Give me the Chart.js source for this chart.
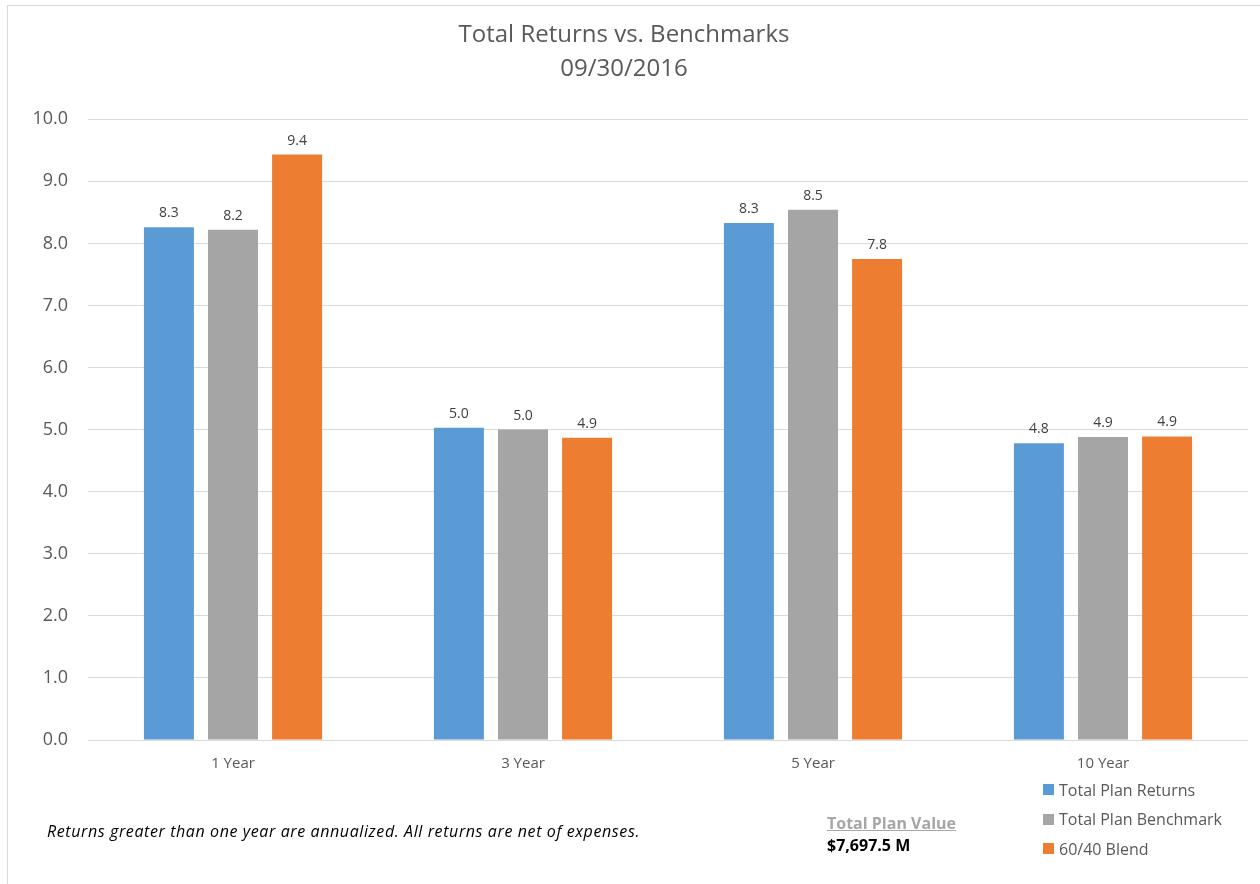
<!DOCTYPE html>
<html>
<head>
<meta charset="utf-8">
<script src="https://cdn.jsdelivr.net/npm/chart.js@4/dist/chart.umd.min.js"></script>
<style>
    body { margin: 0; background: #fff; font-family: "Open Sans", "Liberation Sans", sans-serif; }
    #wrap { position: relative; width: 1260px; height: 884px; overflow: hidden; }
    #frame { position: absolute; left: 7px; top: 5px; width: 1280px; height: 900px; border: 1px solid #d9d9d9; }
    canvas { position: absolute; left: 0; top: 0; }
    .note { position: absolute; left: 47px; top: 820px; font-size: 16px; letter-spacing: 0.6px; font-style: italic; color: #000; }
    .plan { position: absolute; left: 827px; top: 812px; font-size: 16px; font-weight: bold; line-height: 22px; }
    .plan .lbl { color: #a6a6a6; text-decoration: underline; }
    .plan .val { color: #000; }
    #legend { position: absolute; left: 1043px; top: 775px; font-size: 16px; color: #595959; }
    #legend div { height: 29.5px; display: flex; align-items: center; }
    #legend span.box { width: 11px; height: 11px; margin-right: 5px; display: inline-block; }
</style>
</head>
<body>
<div id="wrap">
    <div id="frame"></div>
    <canvas id="returns-chart" width="1260" height="884"></canvas>
    <div class="note">Returns greater than one year are annualized. All returns are net of expenses.</div>
    <div class="plan"><div class="lbl">Total Plan Value</div><div class="val">$7,697.5 M</div></div>
    <div id="legend"></div>
</div>
<script>
const periods = ['1 Year', '3 Year', '5 Year', '10 Year'];
const planReturns = [8.26, 5.03, 8.33, 4.78];
const planBenchmark = [8.22, 5.0, 8.54, 4.88];
const blend6040 = [9.43, 4.87, 7.75, 4.89];
const seriesNames = ['Total Plan Returns', 'Total Plan Benchmark', '60/40 Blend'];
const seriesColors = ['#5b9bd5', '#a5a5a5', '#ed7d31'];

Chart.defaults.font.family = '"Open Sans", "Liberation Sans", sans-serif';

// value labels above each bar
const barLabels = {
    id: 'barLabels',
    afterDatasetsDraw(chart) {
        const ctx = chart.ctx;
        ctx.save();
        ctx.font = '14px "Open Sans", "Liberation Sans", sans-serif';
        ctx.fillStyle = '#404040';
        ctx.textAlign = 'center';
        ctx.textBaseline = 'bottom';
        chart.data.datasets.forEach((ds, i) => {
            chart.getDatasetMeta(i).data.forEach((bar, j) => {
                ctx.fillText(ds.data[j].toFixed(1), bar.x, bar.y - 7);
            });
        });
        ctx.restore();
    }
};

const allSeries = [planReturns, planBenchmark, blend6040];

const chart = new Chart(document.getElementById('returns-chart'), {
    type: 'bar',
    data: {
        labels: periods,
        datasets: allSeries.map((vals, i) => ({
            label: seriesNames[i],
            data: vals,
            backgroundColor: seriesColors[i],
            categoryPercentage: 0.663,
            barPercentage: 0.78
        }))
    },
    options: {
        responsive: false,
        animation: false,
        layout: {
            padding: { left: 0, right: 12, top: 0, bottom: 104 }
        },
        plugins: {
            legend: { display: false },
            tooltip: { enabled: false },
            title: {
                display: true,
                text: ['Total Returns vs. Benchmarks', '09/30/2016'],
                color: '#595959',
                font: { size: 24, weight: 'normal', lineHeight: 1.38 },
                padding: { top: 19, bottom: 34 }
            }
        },
        scales: {
            x: {
                grid: { display: false },
                border: { display: false },
                ticks: {
                    color: '#595959',
                    font: { size: 15 },
                    padding: 7
                },
                afterFit(s) { s.height = 40; }
            },
            y: {
                min: 0,
                max: 10,
                grid: { color: '#d9d9d9', drawTicks: false },
                border: { display: false },
                ticks: {
                    stepSize: 1,
                    color: '#595959',
                    font: { size: 18 },
                    padding: 20,
                    callback: v => v.toFixed(1)
                },
                afterFit(s) { s.width = 88; }
            }
        }
    },
    plugins: [barLabels]
});

const legend = document.getElementById('legend');
seriesNames.forEach((name, i) => {
    const row = document.createElement('div');
    row.innerHTML = '<span class="box" style="background:' + seriesColors[i] + '"></span>' + name;
    legend.appendChild(row);
});
</script>
</body>
</html>
